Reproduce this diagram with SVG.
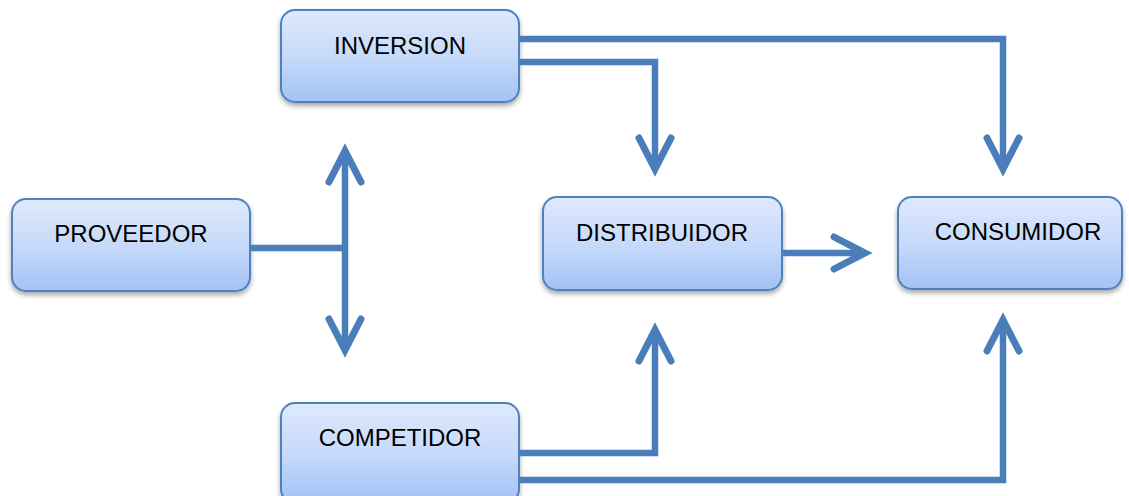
<svg xmlns="http://www.w3.org/2000/svg" width="1129" height="496" viewBox="0 0 1129 496">
<style>
.box{fill:url(#g);stroke:#4F81BD;stroke-width:2;filter:url(#sh)}
.lbl{font-family:"Liberation Sans",Arial,sans-serif;font-size:24px;fill:#000;text-anchor:middle}
.ln{fill:none;stroke:#4A7EBB;stroke-width:6.5}
.arr{marker-end:url(#ah)}
</style>
<defs>
<linearGradient id="g" x1="0" y1="0" x2="0" y2="1">
<stop offset="0" stop-color="#DEE9FC"/>
<stop offset="0.5" stop-color="#C7DAFA"/>
<stop offset="1" stop-color="#A3C2F6"/>
</linearGradient>
<filter id="sh" x="-10%" y="-10%" width="120%" height="130%">
<feGaussianBlur in="SourceAlpha" stdDeviation="2.5"/>
<feOffset dx="0" dy="3" result="b"/>
<feComponentTransfer><feFuncA type="linear" slope="0.35"/></feComponentTransfer>
<feMerge><feMergeNode/><feMergeNode in="SourceGraphic"/></feMerge>
</filter>
<marker id="ah" markerUnits="userSpaceOnUse" markerWidth="80" markerHeight="80" refX="0" refY="0" orient="auto" overflow="visible">
<path d="M-31,-16 L0,0 L-31,16" fill="none" stroke="#4A7EBB" stroke-width="7" stroke-linecap="round" stroke-linejoin="miter"/>
</marker>
<marker id="ah2" markerUnits="userSpaceOnUse" markerWidth="80" markerHeight="80" refX="0" refY="0" orient="auto-start-reverse" overflow="visible">
<path d="M-31,-16 L0,0 L-31,16" fill="none" stroke="#4A7EBB" stroke-width="7" stroke-linecap="round" stroke-linejoin="miter"/>
</marker>
</defs>
<rect width="1129" height="496" fill="#fff"/>
<g id="inversion"><rect class="box" x="281" y="10" width="238" height="92" rx="14"/><text class="lbl" x="400" y="54">INVERSION</text></g>
<g id="proveedor"><rect class="box" x="12" y="199" width="238" height="92" rx="14"/><text class="lbl" x="131" y="242">PROVEEDOR</text></g>
<g id="distribuidor"><rect class="box" x="543" y="197" width="239" height="93" rx="14"/><text class="lbl" x="662" y="241">DISTRIBUIDOR</text></g>
<g id="consumidor"><rect class="box" x="898" y="197" width="224" height="92" rx="14"/><text class="lbl" x="1018" y="240">CONSUMIDOR</text></g>
<g id="competidor"><rect class="box" x="281" y="403" width="238" height="100" rx="14"/><text class="lbl" x="400" y="446">COMPETIDOR</text></g>
<g id="connectors">
<path class="ln arr" d="M519,39 H1003 V169"/>
<path class="ln arr" d="M519,62 H655 V169"/>
<path class="ln" d="M250,248 H345"/>
<path class="ln" d="M345,151 V350" marker-start="url(#ah2)" marker-end="url(#ah2)"/>
<path class="ln arr" d="M782,253 H865"/>
<path class="ln arr" d="M519,453 H655 V330"/>
<path class="ln arr" d="M519,480 H1003 V320"/>
</g>
</svg>
